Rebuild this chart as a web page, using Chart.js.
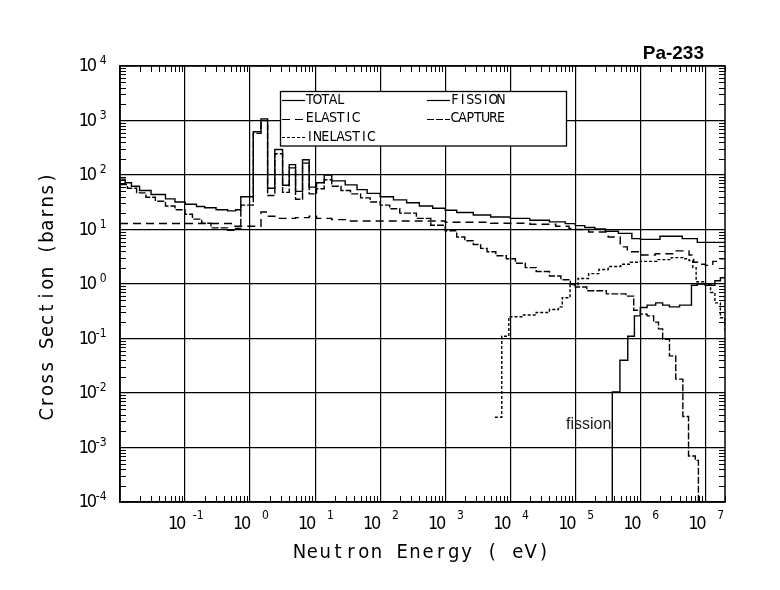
<!DOCTYPE html>
<html>
<head>
<meta charset="utf-8">
<script src="https://cdn.jsdelivr.net/npm/chart.js@4.4.0/dist/chart.umd.min.js"></script>
<style>
  html, body { margin: 0; padding: 0; background: #fff; }
  #wrap { width: 780px; height: 590px; }
</style>
</head>
<body>
<div id="wrap"><canvas id="myChart" width="780" height="590"></canvas></div>
<script>
// Pa-233 cross sections: energy (eV) where each step starts, sigma (barns)
var totalE = [0.01, 0.012, 0.015, 0.02, 0.03, 0.05, 0.07, 0.1, 0.15, 0.2, 0.3, 0.45, 0.6, 0.72, 1.12, 1.47, 1.86, 2.4, 3.16, 4.0,
              5.0, 6.4, 8.1, 10.5, 13.8, 18, 29, 44, 63, 100, 160, 255, 400, 640, 1000, 1500, 2700, 5000, 1e4, 2e4,
              4e4, 7e4, 1e5, 1.4e5, 2e5, 2.9e5, 4.6e5, 7.4e5, 1e6, 2e6, 4.4e6, 7.5e6, 2e7];
var totalS = [84, 72, 62, 52, 44, 36.5, 32, 29, 26.5, 25, 23, 22, 23, 40, 620, 1070, 57, 294, 65, 155,
              50, 190, 60, 72, 100, 78, 66, 54, 46, 40, 35, 31, 27, 24.5, 22.5, 20.5, 18.5, 17, 16, 14.8,
              13.8, 12.8, 11.8, 10.9, 10.2, 9.3, 8.5, 6.8, 6.6, 7.5, 6.8, 5.8, 6.0];

var elasticE = [0.01, 0.56, 1.47, 1.86, 2.4, 5.0, 8.1, 10.5, 18, 30, 1000, 5000, 2e4, 5e4, 8e4, 1e5, 1.6e5, 3.2e5, 4.9e5, 6.3e5,
                1.05e6, 1.7e6, 3.3e6, 5.6e6, 6.6e6, 8e6, 1e7, 1.3e7, 1.6e7, 2e7];
var elasticS = [12.9, 11.5, 21, 17.5, 16, 16.5, 17.5, 16, 15.2, 14.3, 13.6, 13.0, 12.5, 11.5, 10.5, 10, 9.0, 7.3, 4.8, 3.9,
                3.4, 3.6, 4.05, 3.4, 2.5, 2.3, 2.2, 2.6, 2.9, 3.0];

var inelE = [5.8e3, 7.4e3, 9.5e3, 1.5e4, 2.5e4, 4e4, 5.5e4, 6.3e4, 8.3e4, 1.1e5, 1.6e5, 2.3e5, 3.2e5, 5e5, 7e5, 1e6, 1.8e6,
             3e6, 4.5e6, 5.6e6, 6.4e6, 7.2e6, 1e7, 1.2e7, 1.4e7, 1.7e7, 2e7];
var inelS = [0.0036, 0.11, 0.25, 0.27, 0.3, 0.34, 0.38, 0.56, 0.97, 1.26, 1.55, 1.85, 2.1, 2.3, 2.5, 2.6, 2.8,
             3.05, 2.9, 2.7, 2.0, 1.1, 0.97, 0.7, 0.45, 0.24, 0.14];

var fissionE = [3e5, 3.7e5, 4.85e5, 6.4e5, 8.1e5, 1e6, 1.27e6, 1.72e6, 2.2e6, 2.8e6, 4e6, 6.1e6, 7.5e6, 1e7, 1.2e7, 1.4e7, 1.7e7, 2e7];
var fissionS = [1e-6, 0.0105, 0.04, 0.11, 0.26, 0.37, 0.41, 0.45, 0.41, 0.38, 0.41, 0.95, 1.0, 0.95, 0.95, 1.15, 1.3, 1.4];

var captureE = [0.01, 0.013, 0.018, 0.025, 0.035, 0.05, 0.07, 0.1, 0.13, 0.18, 0.25, 0.45, 0.6, 0.72, 1.12, 1.47, 1.86, 2.4, 3.16, 4.0,
                5.0, 6.4, 8.1, 10.5, 13.8, 18, 25, 35, 50, 70, 100, 140, 200, 360, 600, 1000, 1500, 2000, 2700, 3500,
                4400, 6000, 8700, 1.2e4, 1.7e4, 2.5e4, 4e4, 6e4, 8.4e4, 1e5, 1.5e5, 3e5, 6e5, 7.9e5, 1e6, 1.27e6, 1.6e6, 1.9e6, 2.2e6, 2.8e6,
                3.5e6, 4.5e6, 5.5e6, 7e6, 7.8e6];
var captureS = [67, 57, 47, 39, 33, 27, 23, 19, 15.5, 13, 10.7, 9.7, 10.5, 28, 580, 1000, 42, 245, 48, 135,
                36, 165, 45, 56, 82, 62, 52, 45, 38, 32, 28, 24, 20, 16, 12, 9.5, 7.3, 6.2, 5.3, 4.5,
                3.9, 3.3, 2.9, 2.4, 2.0, 1.7, 1.4, 1.2, 1.0, 0.88, 0.75, 0.66, 0.6, 0.33, 0.28, 0.26, 0.2, 0.15, 0.097, 0.048,
                0.018, 0.0037, 7e-4, 5.8e-4, 1e-6];

var xTicks = [1e-1, 1, 10, 100, 1e3, 1e4, 1e5, 1e6, 1e7];
var xTickExp = ['-1', '0', '1', '2', '3', '4', '5', '6', '7'];
var yTicks = [1e-4, 1e-3, 1e-2, 1e-1, 1, 10, 100, 1e3, 1e4];
var yTickExp = ['-4', '-3', '-2', '-1', '0', '1', '2', '3', '4'];

var seriesNames = ['TOTAL', 'ELASTIC', 'INELASTIC', 'FISSION', 'CAPTURE'];
var xTitle = 'Neutron Energy ( eV)';
var yTitle = 'Cross Section (barns)';
var plotTitle = 'Pa-233';
var noteText = 'fission';

var FONT = "'Liberation Sans Narrow', 'DejaVu Sans Condensed', 'Liberation Sans', sans-serif";

function pts(e, s) {
  return e.map(function (v, i) { return { x: v, y: s[i] }; });
}

function line(ctx, x1, y1, x2, y2) {
  ctx.beginPath(); ctx.moveTo(x1, y1); ctx.lineTo(x2, y2); ctx.stroke();
}

// text laid out in fixed-width cells, like the plotter font
function cells(ctx, s, left, mid, w) {
  ctx.textAlign = 'center';
  ctx.textBaseline = 'middle';
  for (var i = 0; i < s.length; i++) ctx.fillText(s[i], left + (i + 0.5) * w, mid);
}

var decor = {
  id: 'decor',
  afterDraw: function (chart) {
    var ctx = chart.ctx, a = chart.chartArea, xs = chart.scales.x, ys = chart.scales.y;
    var d, k, v, p, i;
    ctx.save();
    ctx.strokeStyle = '#000';
    ctx.fillStyle = '#000';
    ctx.lineWidth = 1;

    // minor ticks, inside on every side
    for (d = -2; d < 8; d++) {
      for (k = 2; k < 10; k++) {
        v = k * Math.pow(10, d);
        if (v < xs.min || v > xs.max) continue;
        p = Math.round(xs.getPixelForValue(v)) + 0.5;
        line(ctx, p, a.bottom, p, a.bottom - 6);
        line(ctx, p, a.top, p, a.top + 6);
      }
    }
    for (d = -4; d < 4; d++) {
      for (k = 2; k < 10; k++) {
        v = k * Math.pow(10, d);
        p = Math.round(ys.getPixelForValue(v)) + 0.5;
        line(ctx, a.left, p, a.left + 6, p);
        line(ctx, a.right, p, a.right - 6, p);
      }
    }
    ctx.lineWidth = 1.5;
    ctx.strokeRect(a.left, a.top, a.right - a.left, a.bottom - a.top);

    // tick labels 10^n
    for (i = 0; i < yTicks.length; i++) {
      p = ys.getPixelForValue(yTicks[i]);
      ctx.font = '18px ' + FONT;
      cells(ctx, '10', 80, p + 0.5, 8);
      ctx.font = '12px ' + FONT;
      cells(ctx, yTickExp[i], 106 - yTickExp[i].length * 5.5, p - 5, 5.5);
    }
    for (i = 0; i < xTicks.length; i++) {
      p = xs.getPixelForValue(xTicks[i]);
      ctx.font = '18px ' + FONT;
      cells(ctx, '10', p - 16, 524, 8);
      ctx.font = '12px ' + FONT;
      cells(ctx, xTickExp[i], p + 18 - xTickExp[i].length * 5.5, 516, 5.5);
    }

    // axis titles
    ctx.font = '20px ' + FONT;
    cells(ctx, xTitle, 293, 553, 12.85);
    ctx.save();
    ctx.translate(48, 296);
    ctx.rotate(-Math.PI / 2);
    cells(ctx, yTitle, -124, 0, 11.8);
    ctx.restore();

    // legend box
    var rows = [100, 118.5, 137], cols = [282, 427];
    ctx.fillStyle = '#fff';
    ctx.fillRect(280, 91.5, 286, 54.5);
    ctx.lineWidth = 1.3;
    ctx.strokeRect(280.5, 91.5, 286, 54.5);
    ctx.fillStyle = '#000';
    ctx.font = '14px ' + FONT;
    chart.data.datasets.forEach(function (ds, j) {
      var c = j < 3 ? 0 : 1, r = j < 3 ? j : j - 3;
      var y = Math.round(rows[r]) + 0.5;
      ctx.save();
      ctx.lineWidth = 1.2;
      ctx.setLineDash(ds.borderDash || []);
      line(ctx, cols[c], y, cols[c] + 23, y);
      ctx.restore();
      cells(ctx, ds.label, cols[c] + 24, rows[r], 7.7);
    });

    // title and note
    ctx.font = 'bold 19px "Liberation Sans", Arial, sans-serif';
    ctx.textAlign = 'right';
    ctx.textBaseline = 'alphabetic';
    ctx.fillText(plotTitle, 704, 59);
    ctx.font = '16px "Liberation Sans", Arial, sans-serif';
    ctx.fillStyle = '#222';
    ctx.textAlign = 'left';
    ctx.fillText(noteText, 566, 429);
    ctx.restore();
  }
};

var ctx = document.getElementById('myChart').getContext('2d');
var myChart = new Chart(ctx, {
  type: 'line',
  data: {
    datasets: [
      { label: seriesNames[0], data: pts(totalE, totalS), borderDash: [] },
      { label: seriesNames[1], data: pts(elasticE, elasticS), borderDash: [8, 5] },
      { label: seriesNames[2], data: pts(inelE, inelS), borderDash: [3, 2] },
      { label: seriesNames[3], data: pts(fissionE, fissionS), borderDash: [] },
      { label: seriesNames[4], data: pts(captureE, captureS), borderDash: [7, 2] }
    ]
  },
  options: {
    responsive: false,
    animation: false,
    layout: { padding: { top: 66, right: 55, left: 0, bottom: 0 } },
    elements: {
      line: { borderColor: '#000', borderWidth: 1.4, stepped: true, fill: false, tension: 0 },
      point: { radius: 0, hoverRadius: 0 }
    },
    scales: {
      x: {
        type: 'logarithmic',
        min: 0.01,
        max: 2e7,
        afterBuildTicks: function (scale) { scale.ticks = xTicks.map(function (v) { return { value: v }; }); },
        afterFit: function (scale) { scale.height = 88; },
        ticks: { display: false },
        grid: { color: '#000', lineWidth: 1.2, drawTicks: false },
        border: { display: true, color: '#000', width: 1.5 }
      },
      y: {
        type: 'logarithmic',
        min: 1e-4,
        max: 1e4,
        afterBuildTicks: function (scale) { scale.ticks = yTicks.map(function (v) { return { value: v }; }); },
        afterFit: function (scale) { scale.width = 120; },
        ticks: { display: false },
        grid: { color: '#000', lineWidth: 1.2, drawTicks: false },
        border: { display: true, color: '#000', width: 1.5 }
      }
    },
    plugins: {
      legend: { display: false },
      tooltip: { enabled: false }
    }
  },
  plugins: [decor]
});
</script>
</body>
</html>
